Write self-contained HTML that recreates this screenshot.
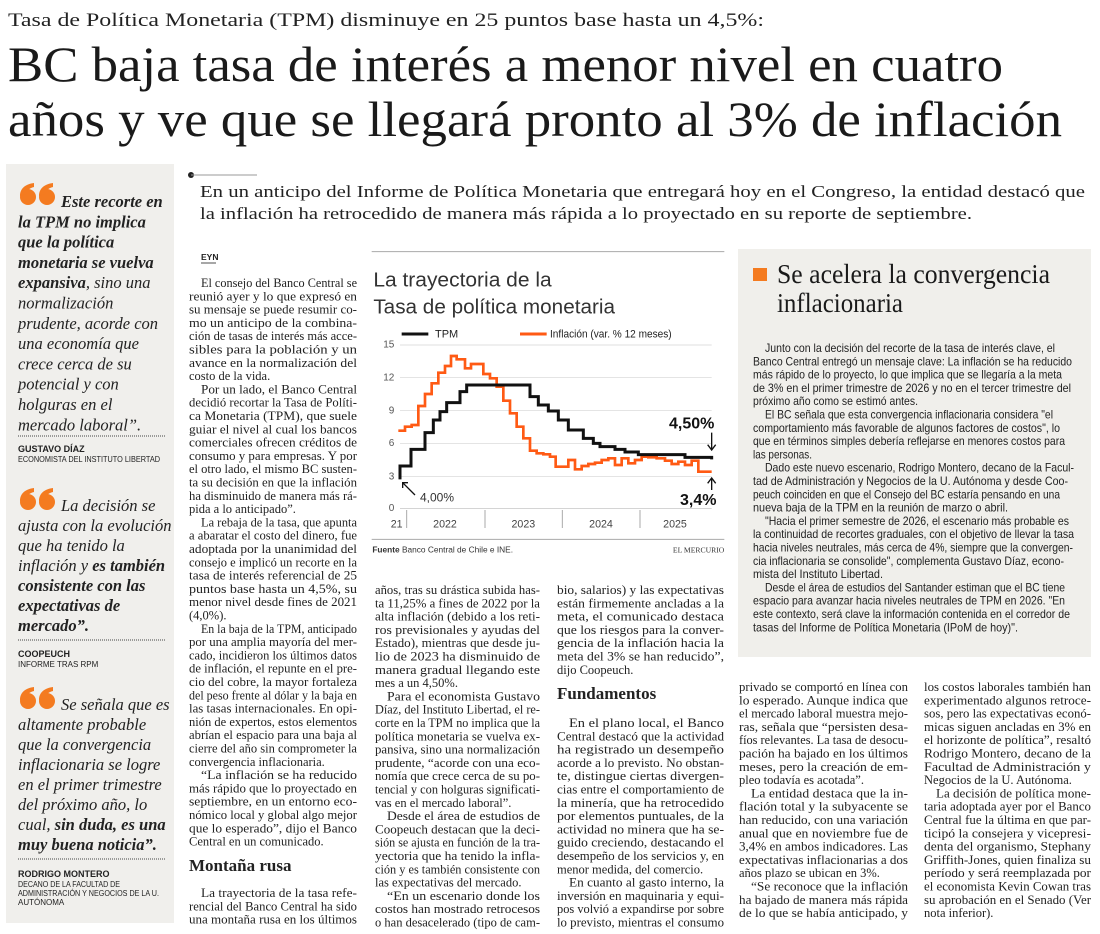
<!DOCTYPE html>
<html><head><meta charset="utf-8"><style>
html,body{margin:0;padding:0;background:#fff;width:1100px;height:934px;overflow:hidden}
svg{display:block}
.b text{font-family:"Liberation Serif",serif;font-size:12.5px;fill:#222}
.x text{font-family:"Liberation Sans Narrow","Liberation Sans",sans-serif;font-size:12px;fill:#222}
.q text{font-family:"Liberation Serif",serif;font-size:16.5px;font-style:italic;fill:#222}
.q .k{font-weight:bold}
.a text{font-family:"Liberation Sans",sans-serif;fill:#222}
</style></head><body>
<svg width="1100" height="934" viewBox="0 0 1100 934" xmlns="http://www.w3.org/2000/svg">
<!-- headers -->
<text x="8" y="26" font-family="Liberation Serif,serif" font-size="19" fill="#222" textLength="756" lengthAdjust="spacingAndGlyphs">Tasa de Política Monetaria (TPM) disminuye en 25 puntos base hasta un 4,5%:</text>
<text x="8" y="81" font-family="Liberation Serif,serif" font-size="50" fill="#1a1a1a" textLength="995" lengthAdjust="spacingAndGlyphs">BC baja tasa de interés a menor nivel en cuatro</text>
<text x="8" y="136" font-family="Liberation Serif,serif" font-size="50" fill="#1a1a1a" textLength="1054" lengthAdjust="spacingAndGlyphs">años y ve que se llegará pronto al 3% de inflación</text>

<!-- sidebar -->
<rect x="6" y="164" width="168" height="759" fill="#f0efec"/>
<circle cx="191" cy="175" r="3" fill="#222"/><line x1="191" y1="175" x2="257" y2="175" stroke="#999" stroke-width="1"/>
<text x="200" y="197" font-family="Liberation Serif,serif" font-size="17" fill="#222" textLength="885" lengthAdjust="spacingAndGlyphs">En un anticipo del Informe de Política Monetaria que entregará hoy en el Congreso, la entidad destacó que</text>
<text x="200" y="219" font-family="Liberation Serif,serif" font-size="17" fill="#222" textLength="772" lengthAdjust="spacingAndGlyphs">la inflación ha retrocedido de manera más rápida a lo proyectado en su reporte de septiembre.</text>

<g fill="#f47b20">
<g transform="translate(20,184)"><circle cx="8" cy="13" r="8"/><path d="M0,12 C0,4 6,0 14,-1 L14,3 C9,4 7,7 6,10 Z"/><circle cx="27" cy="13" r="8"/><path d="M19,12 C19,4 25,0 33,-1 L33,3 C28,4 26,7 25,10 Z"/></g>
<g transform="translate(20,489)"><circle cx="8" cy="13" r="8"/><path d="M0,12 C0,4 6,0 14,-1 L14,3 C9,4 7,7 6,10 Z"/><circle cx="27" cy="13" r="8"/><path d="M19,12 C19,4 25,0 33,-1 L33,3 C28,4 26,7 25,10 Z"/></g>
<g transform="translate(20,688)"><circle cx="8" cy="13" r="8"/><path d="M0,12 C0,4 6,0 14,-1 L14,3 C9,4 7,7 6,10 Z"/><circle cx="27" cy="13" r="8"/><path d="M19,12 C19,4 25,0 33,-1 L33,3 C28,4 26,7 25,10 Z"/></g>
</g>
<g class="q">
<text x="61" y="207" class="k">Este recorte en</text>
<text x="18" y="227.3" class="k">la TPM no implica</text>
<text x="18" y="247.6" class="k">que la política</text>
<text x="18" y="267.9" class="k">monetaria se vuelva</text>
<text x="18" y="288.2"><tspan class="k" font-weight="bold">expansiva</tspan>, sino una</text>
<text x="18" y="308.5">normalización</text>
<text x="18" y="328.8">prudente, acorde con</text>
<text x="18" y="349.1">una economía que</text>
<text x="18" y="369.4">crece cerca de su</text>
<text x="18" y="389.7">potencial y con</text>
<text x="18" y="410">holguras en el</text>
<text x="18" y="430.3">mercado laboral”.</text>

<text x="61" y="511">La decisión se</text>
<text x="18" y="531">ajusta con la evolución</text>
<text x="18" y="551">que ha tenido la</text>
<text x="18" y="571">inflación y <tspan font-weight="bold">es también</tspan></text>
<text x="18" y="591" class="k">consistente con las</text>
<text x="18" y="611" class="k">expectativas de</text>
<text x="18" y="631" class="k">mercado”.</text>

<text x="61" y="710">Se señala que es</text>
<text x="18" y="730">altamente probable</text>
<text x="18" y="750">que la convergencia</text>
<text x="18" y="770">inflacionaria se logre</text>
<text x="18" y="790">en el primer trimestre</text>
<text x="18" y="810">del próximo año, lo</text>
<text x="18" y="830">cual, <tspan font-weight="bold">sin duda, es una</tspan></text>
<text x="18" y="850" class="k">muy buena noticia”.</text>
</g>
<g stroke="#444" stroke-width="1" stroke-dasharray="1,1"><line x1="18" y1="436" x2="165" y2="436"/><line x1="18" y1="640" x2="165" y2="640"/><line x1="18" y1="859" x2="165" y2="859"/></g>
<g class="a">
<text x="18" y="452" font-size="9" font-weight="bold">GUSTAVO DÍAZ</text>
<text x="18" y="462" font-size="8" textLength="142" lengthAdjust="spacingAndGlyphs">ECONOMISTA DEL INSTITUTO LIBERTAD</text>
<text x="18" y="657" font-size="9" font-weight="bold">COOPEUCH</text>
<text x="18" y="667" font-size="8">INFORME TRAS RPM</text>
<text x="18" y="877" font-size="9" font-weight="bold">RODRIGO MONTERO</text>
<text x="18" y="887" font-size="8" textLength="102" lengthAdjust="spacingAndGlyphs">DECANO DE LA FACULTAD DE</text>
<text x="18" y="896" font-size="8" textLength="141" lengthAdjust="spacingAndGlyphs">ADMINISTRACIÓN Y NEGOCIOS DE LA U.</text>
<text x="18" y="905" font-size="8">AUTÓNOMA</text>
<text x="201" y="260" font-size="8.5" font-weight="bold">EYN</text>
</g>
<line x1="201" y1="263" x2="216" y2="263" stroke="#222" stroke-width="0.8"/>

<!-- column 1 -->
<g class="b">
<text x="201" y="287" textLength="156" lengthAdjust="spacingAndGlyphs">El consejo del Banco Central se</text>
<text x="189" y="300.3" textLength="168" lengthAdjust="spacingAndGlyphs">reunió ayer y lo que expresó en</text>
<text x="189" y="313.6" textLength="168" lengthAdjust="spacingAndGlyphs">su mensaje se puede resumir co-</text>
<text x="189" y="326.9" textLength="168" lengthAdjust="spacingAndGlyphs">mo un anticipo de la combina-</text>
<text x="189" y="340.2" textLength="168" lengthAdjust="spacingAndGlyphs">ción de tasas de interés más acce-</text>
<text x="189" y="353.5" textLength="168" lengthAdjust="spacingAndGlyphs">sibles para la población y un</text>
<text x="189" y="366.8" textLength="168" lengthAdjust="spacingAndGlyphs">avance en la normalización del</text>
<text x="189" y="380.1">costo de la vida.</text>
<text x="201" y="393.4" textLength="156" lengthAdjust="spacingAndGlyphs">Por un lado, el Banco Central</text>
<text x="189" y="406.7" textLength="168" lengthAdjust="spacingAndGlyphs">decidió recortar la Tasa de Políti-</text>
<text x="189" y="420" textLength="168" lengthAdjust="spacingAndGlyphs">ca Monetaria (TPM), que suele</text>
<text x="189" y="433.3" textLength="168" lengthAdjust="spacingAndGlyphs">guiar el nivel al cual los bancos</text>
<text x="189" y="446.6" textLength="168" lengthAdjust="spacingAndGlyphs">comerciales ofrecen créditos de</text>
<text x="189" y="459.9" textLength="168" lengthAdjust="spacingAndGlyphs">consumo y para empresas. Y por</text>
<text x="189" y="473.2" textLength="168" lengthAdjust="spacingAndGlyphs">el otro lado, el mismo BC susten-</text>
<text x="189" y="486.5" textLength="168" lengthAdjust="spacingAndGlyphs">ta su decisión en que la inflación</text>
<text x="189" y="499.8" textLength="168" lengthAdjust="spacingAndGlyphs">ha disminuido de manera más rá-</text>
<text x="189" y="513.1">pida a lo anticipado”.</text>
<text x="201" y="526.4" textLength="156" lengthAdjust="spacingAndGlyphs">La rebaja de la tasa, que apunta</text>
<text x="189" y="539.7" textLength="168" lengthAdjust="spacingAndGlyphs">a abaratar el costo del dinero, fue</text>
<text x="189" y="553" textLength="168" lengthAdjust="spacingAndGlyphs">adoptada por la unanimidad del</text>
<text x="189" y="566.3" textLength="168" lengthAdjust="spacingAndGlyphs">consejo e implicó un recorte en la</text>
<text x="189" y="579.6" textLength="168" lengthAdjust="spacingAndGlyphs">tasa de interés referencial de 25</text>
<text x="189" y="592.9" textLength="168" lengthAdjust="spacingAndGlyphs">puntos base hasta un 4,5%, su</text>
<text x="189" y="606.2" textLength="168" lengthAdjust="spacingAndGlyphs">menor nivel desde fines de 2021</text>
<text x="189" y="619.5">(4,0%).</text>
<text x="201" y="632.8" textLength="156" lengthAdjust="spacingAndGlyphs">En la baja de la TPM, anticipado</text>
<text x="189" y="646.1" textLength="168" lengthAdjust="spacingAndGlyphs">por una amplia mayoría del mer-</text>
<text x="189" y="659.4" textLength="168" lengthAdjust="spacingAndGlyphs">cado, incidieron los últimos datos</text>
<text x="189" y="672.7" textLength="168" lengthAdjust="spacingAndGlyphs">de inflación, el repunte en el pre-</text>
<text x="189" y="686" textLength="168" lengthAdjust="spacingAndGlyphs">cio del cobre, la mayor fortaleza</text>
<text x="189" y="699.3" textLength="168" lengthAdjust="spacingAndGlyphs">del peso frente al dólar y la baja en</text>
<text x="189" y="712.6" textLength="168" lengthAdjust="spacingAndGlyphs">las tasas internacionales. En opi-</text>
<text x="189" y="725.9" textLength="168" lengthAdjust="spacingAndGlyphs">nión de expertos, estos elementos</text>
<text x="189" y="739.2" textLength="168" lengthAdjust="spacingAndGlyphs">abrían el espacio para una baja al</text>
<text x="189" y="752.5" textLength="168" lengthAdjust="spacingAndGlyphs">cierre del año sin comprometer la</text>
<text x="189" y="765.8">convergencia inflacionaria.</text>
<text x="201" y="779.1" textLength="156" lengthAdjust="spacingAndGlyphs">“La inflación se ha reducido</text>
<text x="189" y="792.4" textLength="168" lengthAdjust="spacingAndGlyphs">más rápido que lo proyectado en</text>
<text x="189" y="805.7" textLength="168" lengthAdjust="spacingAndGlyphs">septiembre, en un entorno eco-</text>
<text x="189" y="819" textLength="168" lengthAdjust="spacingAndGlyphs">nómico local y global algo mejor</text>
<text x="189" y="832.3" textLength="168" lengthAdjust="spacingAndGlyphs">que lo esperado”, dijo el Banco</text>
<text x="189" y="845.6">Central en un comunicado.</text>
<text x="189" y="871" style="font-size:17px;font-weight:bold">Montaña rusa</text>
<text x="201" y="897" textLength="156" lengthAdjust="spacingAndGlyphs">La trayectoria de la tasa refe-</text>
<text x="189" y="910.3" textLength="168" lengthAdjust="spacingAndGlyphs">rencial del Banco Central ha sido</text>
<text x="189" y="923.6" textLength="168" lengthAdjust="spacingAndGlyphs">una montaña rusa en los últimos</text>

<!-- column 2 -->
<text x="375" y="594" textLength="165" lengthAdjust="spacingAndGlyphs">años, tras su drástica subida has-</text>
<text x="375" y="607.3" textLength="165" lengthAdjust="spacingAndGlyphs">ta 11,25% a fines de 2022 por la</text>
<text x="375" y="620.6" textLength="165" lengthAdjust="spacingAndGlyphs">alta inflación (debido a los reti-</text>
<text x="375" y="633.9" textLength="165" lengthAdjust="spacingAndGlyphs">ros previsionales y ayudas del</text>
<text x="375" y="647.2" textLength="165" lengthAdjust="spacingAndGlyphs">Estado), mientras que desde ju-</text>
<text x="375" y="660.5" textLength="165" lengthAdjust="spacingAndGlyphs">lio de 2023 ha disminuido de</text>
<text x="375" y="673.8" textLength="165" lengthAdjust="spacingAndGlyphs">manera gradual llegando este</text>
<text x="375" y="687.1">mes a un 4,50%.</text>
<text x="387" y="700.4" textLength="153" lengthAdjust="spacingAndGlyphs">Para el economista Gustavo</text>
<text x="375" y="713.7" textLength="165" lengthAdjust="spacingAndGlyphs">Díaz, del Instituto Libertad, el re-</text>
<text x="375" y="727" textLength="165" lengthAdjust="spacingAndGlyphs">corte en la TPM no implica que la</text>
<text x="375" y="740.3" textLength="165" lengthAdjust="spacingAndGlyphs">política monetaria se vuelva ex-</text>
<text x="375" y="753.6" textLength="165" lengthAdjust="spacingAndGlyphs">pansiva, sino una normalización</text>
<text x="375" y="766.9" textLength="165" lengthAdjust="spacingAndGlyphs">prudente, “acorde con una eco-</text>
<text x="375" y="780.2" textLength="165" lengthAdjust="spacingAndGlyphs">nomía que crece cerca de su po-</text>
<text x="375" y="793.5" textLength="165" lengthAdjust="spacingAndGlyphs">tencial y con holguras significati-</text>
<text x="375" y="806.8">vas en el mercado laboral”.</text>
<text x="387" y="820.1" textLength="153" lengthAdjust="spacingAndGlyphs">Desde el área de estudios de</text>
<text x="375" y="833.4" textLength="165" lengthAdjust="spacingAndGlyphs">Coopeuch destacan que la deci-</text>
<text x="375" y="846.7" textLength="165" lengthAdjust="spacingAndGlyphs">sión se ajusta en función de la tra-</text>
<text x="375" y="860" textLength="165" lengthAdjust="spacingAndGlyphs">yectoria que ha tenido la infla-</text>
<text x="375" y="873.3" textLength="165" lengthAdjust="spacingAndGlyphs">ción y es también consistente con</text>
<text x="375" y="886.6">las expectativas del mercado.</text>
<text x="387" y="899.9" textLength="153" lengthAdjust="spacingAndGlyphs">“En un escenario donde los</text>
<text x="375" y="913.2" textLength="165" lengthAdjust="spacingAndGlyphs">costos han mostrado retrocesos</text>
<text x="375" y="926.5" textLength="165" lengthAdjust="spacingAndGlyphs">o han desacelerado (tipo de cam-</text>

<!-- column 3 -->
<text x="557" y="594" textLength="167" lengthAdjust="spacingAndGlyphs">bio, salarios) y las expectativas</text>
<text x="557" y="607.3" textLength="167" lengthAdjust="spacingAndGlyphs">están firmemente ancladas a la</text>
<text x="557" y="620.6" textLength="167" lengthAdjust="spacingAndGlyphs">meta, el comunicado destaca</text>
<text x="557" y="633.9" textLength="167" lengthAdjust="spacingAndGlyphs">que los riesgos para la conver-</text>
<text x="557" y="647.2" textLength="167" lengthAdjust="spacingAndGlyphs">gencia de la inflación hacia la</text>
<text x="557" y="660.5" textLength="167" lengthAdjust="spacingAndGlyphs">meta del 3% se han reducido”,</text>
<text x="557" y="673.8">dijo Coopeuch.</text>
<text x="557" y="699" style="font-size:17px;font-weight:bold">Fundamentos</text>
<text x="569" y="727" textLength="155" lengthAdjust="spacingAndGlyphs">En el plano local, el Banco</text>
<text x="557" y="740.3" textLength="167" lengthAdjust="spacingAndGlyphs">Central destacó que la actividad</text>
<text x="557" y="753.6" textLength="167" lengthAdjust="spacingAndGlyphs">ha registrado un desempeño</text>
<text x="557" y="766.9" textLength="167" lengthAdjust="spacingAndGlyphs">acorde a lo previsto. No obstan-</text>
<text x="557" y="780.2" textLength="167" lengthAdjust="spacingAndGlyphs">te, distingue ciertas divergen-</text>
<text x="557" y="793.5" textLength="167" lengthAdjust="spacingAndGlyphs">cias entre el comportamiento de</text>
<text x="557" y="806.8" textLength="167" lengthAdjust="spacingAndGlyphs">la minería, que ha retrocedido</text>
<text x="557" y="820.1" textLength="167" lengthAdjust="spacingAndGlyphs">por elementos puntuales, de la</text>
<text x="557" y="833.4" textLength="167" lengthAdjust="spacingAndGlyphs">actividad no minera que ha se-</text>
<text x="557" y="846.7" textLength="167" lengthAdjust="spacingAndGlyphs">guido creciendo, destacando el</text>
<text x="557" y="860" textLength="167" lengthAdjust="spacingAndGlyphs">desempeño de los servicios y, en</text>
<text x="557" y="873.3">menor medida, del comercio.</text>
<text x="569" y="886.6" textLength="155" lengthAdjust="spacingAndGlyphs">En cuanto al gasto interno, la</text>
<text x="557" y="899.9" textLength="167" lengthAdjust="spacingAndGlyphs">inversión en maquinaria y equi-</text>
<text x="557" y="913.2" textLength="167" lengthAdjust="spacingAndGlyphs">pos volvió a expandirse por sobre</text>
<text x="557" y="926.5" textLength="167" lengthAdjust="spacingAndGlyphs">lo previsto, mientras el consumo</text>

<!-- column 4 -->
<text x="739" y="691" textLength="169" lengthAdjust="spacingAndGlyphs">privado se comportó en línea con</text>
<text x="739" y="704.3" textLength="169" lengthAdjust="spacingAndGlyphs">lo esperado. Aunque indica que</text>
<text x="739" y="717.6" textLength="169" lengthAdjust="spacingAndGlyphs">el mercado laboral muestra mejo-</text>
<text x="739" y="730.9" textLength="169" lengthAdjust="spacingAndGlyphs">ras, señala que “persisten desa-</text>
<text x="739" y="744.2" textLength="169" lengthAdjust="spacingAndGlyphs">fíos relevantes. La tasa de desocu-</text>
<text x="739" y="757.5" textLength="169" lengthAdjust="spacingAndGlyphs">pación ha bajado en los últimos</text>
<text x="739" y="770.8" textLength="169" lengthAdjust="spacingAndGlyphs">meses, pero la creación de em-</text>
<text x="739" y="784.1">pleo todavía es acotada”.</text>
<text x="751" y="797.4" textLength="157" lengthAdjust="spacingAndGlyphs">La entidad destaca que la in-</text>
<text x="739" y="810.7" textLength="169" lengthAdjust="spacingAndGlyphs">flación total y la subyacente se</text>
<text x="739" y="824" textLength="169" lengthAdjust="spacingAndGlyphs">han reducido, con una variación</text>
<text x="739" y="837.3" textLength="169" lengthAdjust="spacingAndGlyphs">anual que en noviembre fue de</text>
<text x="739" y="850.6" textLength="169" lengthAdjust="spacingAndGlyphs">3,4% en ambos indicadores. Las</text>
<text x="739" y="863.9" textLength="169" lengthAdjust="spacingAndGlyphs">expectativas inflacionarias a dos</text>
<text x="739" y="877.2">años plazo se ubican en 3%.</text>
<text x="751" y="890.5" textLength="157" lengthAdjust="spacingAndGlyphs">“Se reconoce que la inflación</text>
<text x="739" y="903.8" textLength="169" lengthAdjust="spacingAndGlyphs">ha bajado de manera más rápida</text>
<text x="739" y="917.1" textLength="169" lengthAdjust="spacingAndGlyphs">de lo que se había anticipado, y</text>

<!-- column 5 -->
<text x="924" y="691" textLength="167" lengthAdjust="spacingAndGlyphs">los costos laborales también han</text>
<text x="924" y="704.3" textLength="167" lengthAdjust="spacingAndGlyphs">experimentado algunos retroce-</text>
<text x="924" y="717.6" textLength="167" lengthAdjust="spacingAndGlyphs">sos, pero las expectativas econó-</text>
<text x="924" y="730.9" textLength="167" lengthAdjust="spacingAndGlyphs">micas siguen ancladas en 3% en</text>
<text x="924" y="744.2" textLength="167" lengthAdjust="spacingAndGlyphs">el horizonte de política”, resaltó</text>
<text x="924" y="757.5" textLength="167" lengthAdjust="spacingAndGlyphs">Rodrigo Montero, decano de la</text>
<text x="924" y="770.8" textLength="167" lengthAdjust="spacingAndGlyphs">Facultad de Administración y</text>
<text x="924" y="784.1">Negocios de la U. Autónoma.</text>
<text x="936" y="797.4" textLength="155" lengthAdjust="spacingAndGlyphs">La decisión de política mone-</text>
<text x="924" y="810.7" textLength="167" lengthAdjust="spacingAndGlyphs">taria adoptada ayer por el Banco</text>
<text x="924" y="824" textLength="167" lengthAdjust="spacingAndGlyphs">Central fue la última en que par-</text>
<text x="924" y="837.3" textLength="167" lengthAdjust="spacingAndGlyphs">ticipó la consejera y vicepresi-</text>
<text x="924" y="850.6" textLength="167" lengthAdjust="spacingAndGlyphs">denta del organismo, Stephany</text>
<text x="924" y="863.9" textLength="167" lengthAdjust="spacingAndGlyphs">Griffith-Jones, quien finaliza su</text>
<text x="924" y="877.2" textLength="167" lengthAdjust="spacingAndGlyphs">período y será reemplazada por</text>
<text x="924" y="890.5" textLength="167" lengthAdjust="spacingAndGlyphs">el economista Kevin Cowan tras</text>
<text x="924" y="903.8" textLength="167" lengthAdjust="spacingAndGlyphs">su aprobación en el Senado (Ver</text>
<text x="924" y="917.1">nota inferior).</text>
</g>

<!-- right box -->
<rect x="738" y="249" width="353" height="408" fill="#f0efeb"/>
<rect x="753" y="268" width="14" height="13" fill="#f47b20"/>
<text x="777" y="283" font-family="Liberation Serif,serif" font-size="27" fill="#1a1a1a" textLength="273" lengthAdjust="spacingAndGlyphs">Se acelera la convergencia</text>
<text x="777" y="312" font-family="Liberation Serif,serif" font-size="27" fill="#1a1a1a" textLength="126" lengthAdjust="spacingAndGlyphs">inflacionaria</text>
<g class="x">
<text x="765" y="352" textLength="290" lengthAdjust="spacingAndGlyphs">Junto con la decisión del recorte de la tasa de interés clave, el</text>
<text x="753" y="365.3" textLength="319" lengthAdjust="spacingAndGlyphs">Banco Central entregó un mensaje clave: La inflación se ha reducido</text>
<text x="753" y="378.6" textLength="309" lengthAdjust="spacingAndGlyphs">más rápido de lo proyecto, lo que implica que se llegaría a la meta</text>
<text x="753" y="391.9" textLength="318" lengthAdjust="spacingAndGlyphs">de 3% en el primer trimestre de 2026 y no en el tercer trimestre del</text>
<text x="753" y="405.2" textLength="165" lengthAdjust="spacingAndGlyphs">próximo año como se estimó antes.</text>
<text x="765" y="418.5" textLength="288" lengthAdjust="spacingAndGlyphs">El BC señala que esta convergencia inflacionaria considera "el</text>
<text x="753" y="431.8" textLength="307" lengthAdjust="spacingAndGlyphs">comportamiento más favorable de algunos factores de costos", lo</text>
<text x="753" y="445.1" textLength="312" lengthAdjust="spacingAndGlyphs">que en términos simples debería reflejarse en menores costos para</text>
<text x="753" y="458.4" textLength="59" lengthAdjust="spacingAndGlyphs">las personas.</text>
<text x="765" y="471.7" textLength="309" lengthAdjust="spacingAndGlyphs">Dado este nuevo escenario, Rodrigo Montero, decano de la Facul-</text>
<text x="753" y="485" textLength="315" lengthAdjust="spacingAndGlyphs">tad de Administración y Negocios de la U. Autónoma y desde Coo-</text>
<text x="753" y="498.3" textLength="307" lengthAdjust="spacingAndGlyphs">peuch coinciden en que el Consejo del BC estaría pensando en una</text>
<text x="753" y="511.6" textLength="255" lengthAdjust="spacingAndGlyphs">nueva baja de la TPM en la reunión de marzo o abril.</text>
<text x="765" y="524.9" textLength="304" lengthAdjust="spacingAndGlyphs">"Hacia el primer semestre de 2026, el escenario más probable es</text>
<text x="753" y="538.2" textLength="321" lengthAdjust="spacingAndGlyphs">la continuidad de recortes graduales, con el objetivo de llevar la tasa</text>
<text x="753" y="551.5" textLength="320" lengthAdjust="spacingAndGlyphs">hacia niveles neutrales, más cerca de 4%, siempre que la convergen-</text>
<text x="753" y="564.8" textLength="311" lengthAdjust="spacingAndGlyphs">cia inflacionaria se consolide", complementa Gustavo Díaz, econo-</text>
<text x="753" y="578.1" textLength="130" lengthAdjust="spacingAndGlyphs">mista del Instituto Libertad.</text>
<text x="765" y="591.4" textLength="300" lengthAdjust="spacingAndGlyphs">Desde el área de estudios del Santander estiman que el BC tiene</text>
<text x="753" y="604.7" textLength="312" lengthAdjust="spacingAndGlyphs">espacio para avanzar hacia niveles neutrales de TPM en 2026. "En</text>
<text x="753" y="618" textLength="317" lengthAdjust="spacingAndGlyphs">este contexto, será clave la información contenida en el corredor de</text>
<text x="753" y="631.3" textLength="265" lengthAdjust="spacingAndGlyphs">tasas del Informe de Política Monetaria (IPoM de hoy)".</text>
</g>

<!-- chart -->
<svg x="365" y="250" width="365" height="310" viewBox="0 0 1095 930">
<line x1="20" y1="5" x2="1078" y2="5" stroke="#aaa" stroke-width="3"/>
<g font-family="Liberation Sans,sans-serif" fill="#333">
<text x="25" y="110" font-size="62" textLength="535" lengthAdjust="spacingAndGlyphs">La trayectoria de la</text>
<text x="25" y="190" font-size="62" textLength="725" lengthAdjust="spacingAndGlyphs">Tasa de política monetaria</text>
</g>
<line x1="110" y1="252" x2="190" y2="252" stroke="#111" stroke-width="9"/>
<text x="210" y="263" font-family="Liberation Sans,sans-serif" font-size="33" fill="#222">TPM</text>
<line x1="465" y1="252" x2="545" y2="252" stroke="#ff5a14" stroke-width="9"/>
<text x="555" y="263" font-family="Liberation Sans,sans-serif" font-size="33" fill="#222" textLength="365" lengthAdjust="spacingAndGlyphs">Inflación (var. % 12 meses)</text>
<g stroke="#d4d4d4" stroke-width="2">
<line x1="105" y1="285" x2="1040" y2="285"/><line x1="105" y1="383" x2="1040" y2="383"/><line x1="105" y1="482" x2="1040" y2="482"/><line x1="105" y1="580" x2="1040" y2="580"/><line x1="105" y1="680" x2="1040" y2="680"/>
</g>
<line x1="105" y1="775" x2="1040" y2="775" stroke="#bbb" stroke-width="2"/>
<g font-family="Liberation Sans,sans-serif" font-size="30" fill="#555" text-anchor="end">
<text x="88" y="293">15</text><text x="88" y="391">12</text><text x="88" y="490">9</text><text x="88" y="588">6</text><text x="88" y="688">3</text><text x="88" y="783">0</text>
</g>
<g stroke="#aaa" stroke-width="3"><line x1="125" y1="780" x2="125" y2="834"/><line x1="360" y1="780" x2="360" y2="834"/><line x1="592" y1="780" x2="592" y2="834"/><line x1="825" y1="780" x2="825" y2="834"/></g>
<g font-family="Liberation Sans,sans-serif" font-size="32" fill="#444" text-anchor="middle">
<text x="95" y="832">21</text><text x="240" y="832">2022</text><text x="475" y="832">2023</text><text x="708" y="832">2024</text><text x="930" y="832">2025</text>
</g>
<path d="M100,542 H120 V530 H140 V525 H160 V468 H180 V432 H200 V400 H220 V368 H240 V348 H258 V318 H275 V328 H300 V355 H318 V342 H355 V372 H375 V385 H395 V410 H415 V452 H435 V490 H455 V530 H475 V565 H495 V602 H515 V610 H535 V613 H555 V620 H572 V650 H610 V630 H630 V658 H650 V648 H670 V642 H690 V638 H710 V630 H730 V625 H750 V645 H770 V625 H790 V640 H810 V630 H830 V620 H850 V622 H875 V625 H900 V632 H920 V642 H940 V635 H960 V645 H980 V632 H1000 V665 H1040" fill="none" stroke="#ff5a14" stroke-width="8"/>
<path d="M105,688 V648 H138 V598 H180 V548 H205 V510 H225 V485 H245 V458 H285 V425 H305 V405 H495 V440 H520 V465 H550 V483 H580 V510 H610 V540 H655 V565 H685 V580 H705 V590 H750 V598 H780 V606 H820 V614 H960 V622 H1040 V628" fill="none" stroke="#111" stroke-width="9"/>
<g font-family="Liberation Sans,sans-serif" fill="#111">
<text x="912" y="535" font-size="48" font-weight="bold">4,50%</text>
<text x="945" y="765" font-size="48" font-weight="bold">3,4%</text>
<text x="165" y="755" font-size="36" fill="#333">4,00%</text>
</g>
<g stroke="#111" stroke-width="4" fill="none">
<path d="M1040,548 V598 M1028,584 L1040,600 L1052,584"/>
<path d="M1040,720 V686 M1028,700 L1040,684 L1052,700"/>
<path d="M150,735 L113,698 M113,714 L113,698 L129,698"/>
</g>
<line x1="20" y1="868" x2="1078" y2="868" stroke="#aaa" stroke-width="3"/>
<text x="22" y="908" font-family="Liberation Sans,sans-serif" font-size="25" fill="#333"><tspan font-weight="bold">Fuente</tspan> Banco Central de Chile e INE.</text>
<text x="1078" y="908" font-family="Liberation Serif,serif" font-size="23" fill="#333" text-anchor="end">EL MERCURIO</text>
</svg>
</svg>
</body></html>
